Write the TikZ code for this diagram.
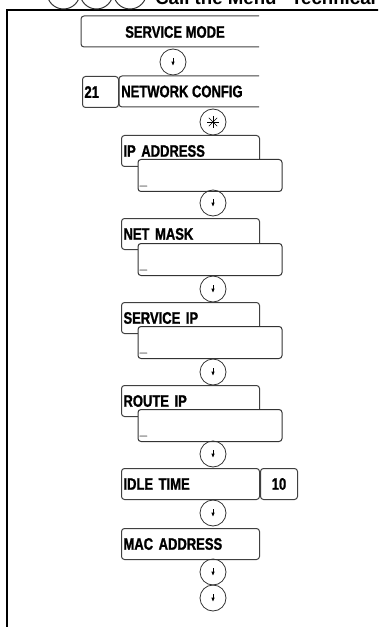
\documentclass[tikz,border=0pt]{standalone}
\usepackage{fontspec}
\newfontfamily\lcdfont[FakeStretch=0.78, BoldFeatures={FakeBold=1.2}]{Liberation Sans}
\newfontfamily\hdrfont{Liberation Sans}
\usetikzlibrary{arrows.meta}

\begin{document}
\begin{tikzpicture}[x=0.75pt, y=-0.75pt, >={Latex[length=3.2pt,width=2.6pt]},
    font=\lcdfont\bfseries\fontsize{12.5}{14}\selectfont,
    lbl/.style={draw=black!75, line width=0.75pt, rounded corners=2.25pt, fill=white, anchor=north west, minimum width=103.5pt, minimum height=23.25pt, text width=100.5pt, inner xsep=1.5pt, align=left},
    val/.style={draw=black!80, line width=0.75pt, rounded corners=2.25pt, fill=white, anchor=north west, minimum width=108pt, minimum height=24pt},
    num/.style={draw=black!75, line width=0.75pt, rounded corners=2.25pt, anchor=north west, minimum height=23.25pt, inner xsep=1.5pt},
    openbox/.style={draw=black!75, line width=0.75pt, rounded corners=2.25pt},
    key/.style={draw=black!80, circle, line width=0.6pt, minimum size=19.5pt, inner sep=0pt},
    cur/.style={anchor=base west, inner sep=0pt, text=black!55}]
    \useasboundingbox (0,0) rectangle (378,627);
    \clip (0,0) rectangle (378,627);
    % frame and heading cut by the page edge
    \draw[line width=1.5pt] (7,640) -- (7,10) -- (390,10);
    \node[key, minimum size=24.75pt, line width=0.75pt] (t1) at (63.5,-7.5) {};
    \node[key, minimum size=24.75pt, line width=0.75pt] (t2) at (96.5,-7.5) {};
    \node[key, minimum size=24.75pt, line width=0.75pt] (t3) at (130,-7.5) {};
    \node[anchor=base west, inner sep=0pt, font=\hdrfont\bfseries\fontsize{14}{16}\selectfont] (hdr) at (155,5) {Call the Menu “Technical Settings”};
    % service mode
    \draw[openbox] (259,16) -- (81,16) -- (81,47) -- (259,47);
    \node (svc) at (175,32) {SERVICE MODE};
    \node[key] (k1) at (173,62) {};
    \node[num, text width=24pt, align=left] (grp) at (82,76) {21};
    \draw[openbox] (259,76) -- (119,76) -- (119,107) -- (259,107);
    \node[anchor=west, inner xsep=0pt] (net) at (121,91.5) {NETWORK CONFIG};
    \node[key] (star) at (213,122) {};
    \foreach \a in {0,45,90,135}
      \draw[line width=0.5pt] (star.center) +(\a:4.5pt) -- +(\a+180:4.5pt);
    % address entries
    \node[lbl] (ip) at (121,135) {IP ADDRESS};
    \node[val] (ipv) at (137.5,159) {};
    \node[cur] (ipc) at ([shift={(1.5pt,5.7pt)}]ipv.south west) {\_};
    \node[key] (k2) at (213,203) {};
    \node[lbl] (mask) at (121,218) {NET MASK};
    \node[val] (maskv) at (137.5,243) {};
    \node[cur] (maskc) at ([shift={(1.5pt,5.7pt)}]maskv.south west) {\_};
    \node[key] (k3) at (213,289) {};
    \node[lbl] (sip) at (121,302) {SERVICE IP};
    \node[val] (sipv) at (137.5,326) {};
    \node[cur] (sipc) at ([shift={(1.5pt,5.7pt)}]sipv.south west) {\_};
    \node[key] (k4) at (213,372) {};
    \node[lbl] (rip) at (121,385) {ROUTE IP};
    \node[val] (ripv) at (137.5,409) {};
    \node[cur] (ripc) at ([shift={(1.5pt,5.7pt)}]ripv.south west) {\_};
    \node[key] (k5) at (213,454) {};
    % idle time and mac
    \node[lbl] (idle) at (121,468) {IDLE TIME};
    \node[num, minimum width=27.75pt] (idlev) at (260,468) {10};
    \node[key] (k6) at (213,513) {};
    \node[lbl] (mac) at (121,528) {MAC ADDRESS};
    \node[key] (k7) at (213,572) {};
    \node[key] (k8) at (213,598) {};
    \foreach \k in {k1,k2,k3,k4,k5,k6,k7,k8,t3}
      \draw[->, line width=0.7pt] ([yshift=3pt]\k.center) -- ([yshift=-3pt]\k.center);
\end{tikzpicture}
\end{document}
